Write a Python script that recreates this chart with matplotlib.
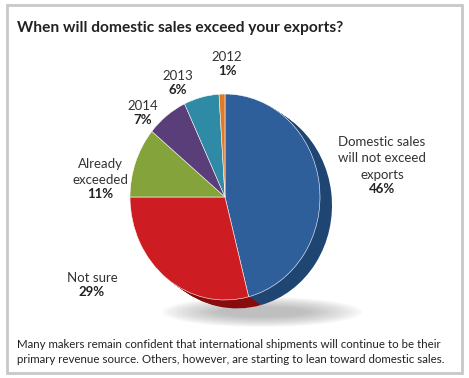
import matplotlib.pyplot as plt
from matplotlib.patches import Ellipse, Rectangle

# survey answers, clockwise from 12 o'clock
labels = ["Domestic sales\nwill not exceed\nexports", "Not sure", "Already\nexceeded", "2014", "2013", "2012"]
shares = [46, 29, 11, 7, 6, 1]
face_colors = ["#2f5f9b", "#cd1d22", "#84a33a", "#5a3e79", "#2f8aa6", "#df7a26"]
side_colors = ["#1f4673", "#8a0b0e", "#5b7426", "#3e2a55", "#1f6076", "#9b5216"]

# label anchors in pixel coords (x, y from top) - boundary between name and value
label_pos = [(382, 181), (92, 284), (100, 186), (143, 112), (178, 82), (227, 63)]

title = "When will domestic sales exceed your exports?"
caption = ("Many makers remain confident that international shipments will continue to be their\n"
           "primary revenue source. Others, however, are starting to lean toward domestic sales.")

W, H = 469, 378
fig = plt.figure(figsize=(W / 100, H / 100), dpi=100)
ax = fig.add_axes([0, 0, 1, 1])
ax.set_xlim(0, W)
ax.set_ylim(0, H)
ax.axis("off")

# outer frame
ax.add_patch(Rectangle((7, 5), W - 14, H - 10, fill=False, edgecolor="#c8c8c8", linewidth=2))

# soft shadow below the pie
for i in range(12):
    ax.add_patch(Ellipse((262, H - 312), 200 - i * 10, 30 - i * 1.8,
                         facecolor="#808080", edgecolor="none", alpha=0.05, zorder=1))

# pie gets its own axes so it can be a slightly tall ellipse
cx, cy, rx, ry = 225, 197, 95, 103
pad = 1.25
pax = fig.add_axes([(cx - pad * rx) / W, 1 - (cy + pad * ry) / H,
                    2 * pad * rx / W, 2 * pad * ry / H])
pax.patch.set_alpha(0)

# extruded side of the pie
steps = 12
for k in range(steps, 0, -1):
    pax.pie(shares, colors=side_colors, startangle=90, counterclock=False,
            center=(k * 1.0 / rx, -k * 0.7 / ry), radius=1,
            wedgeprops=dict(linewidth=0), frame=True)

# top face
pax.pie(shares, colors=face_colors, startangle=90, counterclock=False,
        center=(0, 0), radius=1,
        wedgeprops=dict(linewidth=0.4, edgecolor="#ffffff"), frame=True)
pax.set_xlim(-pad, pad)
pax.set_ylim(-pad, pad)
pax.set_aspect("auto")
pax.axis("off")

font = "Lato"
for lab, val, (px, py) in zip(labels, shares, label_pos):
    ax.text(px, H - py, lab, ha="center", va="bottom", fontsize=9.5, family=font,
            color="#333333", linespacing=1.45)
    ax.text(px, H - py - 2, f"{val}%", ha="center", va="top", fontsize=9.5, family=font,
            fontweight="bold", color="#222222")

ax.text(17, H - 28, title, ha="left", va="center", fontsize=11.2, family=font,
        fontweight="bold", color="#222222")
ax.text(17, H - 352, caption, ha="left", va="center", fontsize=8.25, family=font,
        color="#222222", linespacing=1.55)

fig.savefig("out.png", dpi=100)
